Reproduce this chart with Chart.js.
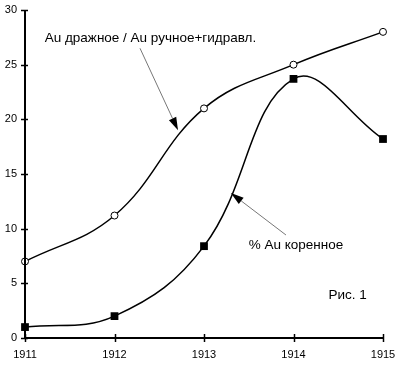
<!DOCTYPE html>
<html>
<head>
<meta charset="utf-8">
<script src="https://cdn.jsdelivr.net/npm/chart.js@4/dist/chart.umd.min.js"></script>
<style>
    html, body { margin: 0; padding: 0; background: #fff; }
    #wrap { width: 400px; height: 372px; }
</style>
</head>
<body>
<div id="wrap"><canvas id="chart" width="400" height="372"></canvas></div>
<script>

/* =========================
   DATA
========================= */

const years = [1911, 1912, 1913, 1914, 1915];
const yTicks = [0, 5, 10, 15, 20, 25, 30];

// Au дражное / Au ручное+гидравл.
const ratioValues = [7, 11.2, 21, 25, 28];

// % Au коренное
const rootValues = [1, 2, 8.4, 23.7, 18.2];

const labelRatio = "Au дражное / Au ручное+гидравл.";
const labelRoot = "% Au коренное";
const figLabel = "Рис. 1";

/* =========================
   ANNOTATIONS (data units)
========================= */

const notes = [
    { text: labelRatio, x: 1911.22, y: 27.45 },
    { text: labelRoot, x: 1913.50, y: 8.5 },
    { text: figLabel, x: 1914.39, y: 3.93 }
];

const arrows = [
    { from: [1912.285, 26.5], to: [1912.71, 19.0] },
    { from: [1913.916, 9.42], to: [1913.30, 13.26] }
];

/* =========================
   PLUGIN: axes, ticks, notes
========================= */

const drawExtras = {
    id: "drawExtras",
    afterDraw(chart) {
        const ctx = chart.ctx;
        const xs = chart.scales.x;
        const ys = chart.scales.y;
        const area = chart.chartArea;

        ctx.save();

        // axes
        ctx.strokeStyle = "#000";
        ctx.lineWidth = 2;
        ctx.beginPath();
        ctx.moveTo(area.left, area.top);
        ctx.lineTo(area.left, area.bottom);
        ctx.lineTo(area.right, area.bottom);
        ctx.stroke();

        // tick marks crossing the axes
        ctx.lineWidth = 1.5;
        yTicks.forEach(v => {
            const py = Math.round(ys.getPixelForValue(v)) + 0.5;
            ctx.beginPath();
            ctx.moveTo(area.left - 4, py);
            ctx.lineTo(area.left + 3, py);
            ctx.stroke();
        });
        years.forEach(v => {
            const px = Math.round(xs.getPixelForValue(v)) + 0.5;
            ctx.beginPath();
            ctx.moveTo(px, area.bottom - 4);
            ctx.lineTo(px, area.bottom + 4);
            ctx.stroke();
        });

        // arrows
        arrows.forEach(a => {
            const x1 = xs.getPixelForValue(a.from[0]);
            const y1 = ys.getPixelForValue(a.from[1]);
            const x2 = xs.getPixelForValue(a.to[0]);
            const y2 = ys.getPixelForValue(a.to[1]);
            const ang = Math.atan2(y2 - y1, x2 - x1);
            const headLen = 13;
            const headW = 4;

            ctx.strokeStyle = "#777";
            ctx.lineWidth = 1;
            ctx.beginPath();
            ctx.moveTo(x1, y1);
            ctx.lineTo(x2 - Math.cos(ang) * headLen, y2 - Math.sin(ang) * headLen);
            ctx.stroke();

            const bx = x2 - Math.cos(ang) * headLen;
            const by = y2 - Math.sin(ang) * headLen;
            ctx.fillStyle = "#000";
            ctx.beginPath();
            ctx.moveTo(x2, y2);
            ctx.lineTo(bx + Math.sin(ang) * headW, by - Math.cos(ang) * headW);
            ctx.lineTo(bx - Math.sin(ang) * headW, by + Math.cos(ang) * headW);
            ctx.closePath();
            ctx.fill();
        });

        // text notes
        ctx.fillStyle = "#000";
        ctx.font = "13.5px 'Liberation Sans', Arial, sans-serif";
        ctx.textAlign = "left";
        ctx.textBaseline = "middle";
        notes.forEach(n => {
            ctx.fillText(n.text, xs.getPixelForValue(n.x), ys.getPixelForValue(n.y));
        });

        ctx.restore();
    }
};

/* =========================
   CHART
========================= */

const tickFont = { family: "'Liberation Sans', Arial, sans-serif", size: 11 };

function noPad(s) {
    s.paddingLeft = 0;
    s.paddingRight = 0;
    s.paddingTop = 0;
    s.paddingBottom = 0;
}

new Chart(document.getElementById("chart"), {

    type: "line",

    data: {
        datasets: [
            {
                label: labelRatio,
                data: years.map((y, i) => ({ x: y, y: ratioValues[i] })),
                borderColor: "#000",
                borderWidth: 1.5,
                tension: 0.4,
                pointStyle: "circle",
                pointRadius: 3.5,
                pointBorderWidth: 1,
                pointBackgroundColor: "#fff",
                pointBorderColor: "#000",
                clip: false
            },
            {
                label: labelRoot,
                data: years.map((y, i) => ({ x: y, y: rootValues[i] })),
                borderColor: "#000",
                borderWidth: 1.5,
                tension: 0.4,
                pointStyle: "rect",
                pointRadius: 5.5,
                pointBorderWidth: 0,
                pointBackgroundColor: "#000",
                pointBorderColor: "#000",
                clip: false
            }
        ]
    },

    options: {
        responsive: false,
        animation: false,
        layout: { padding: { top: 10, right: 17, left: 0, bottom: 0 } },
        plugins: {
            legend: { display: false },
            tooltip: { enabled: false }
        },
        scales: {
            x: {
                type: "linear",
                min: years[0],
                max: years[years.length - 1],
                afterBuildTicks: s => { s.ticks = years.map(v => ({ value: v })); },
                afterFit: s => { s.height = 34; noPad(s); },
                grid: { display: false, drawTicks: false },
                border: { display: false },
                ticks: {
                    font: tickFont,
                    color: "#000",
                    padding: 10,
                    maxRotation: 0,
                    callback: v => String(v)
                }
            },
            y: {
                min: 0,
                max: 30,
                afterBuildTicks: s => { s.ticks = yTicks.map(v => ({ value: v })); },
                afterFit: s => { s.width = 25; noPad(s); },
                grid: { display: false, drawTicks: false },
                border: { display: false },
                ticks: {
                    font: tickFont,
                    color: "#000",
                    padding: 8
                }
            }
        }
    },

    plugins: [drawExtras]

});

</script>
</body>
</html>
